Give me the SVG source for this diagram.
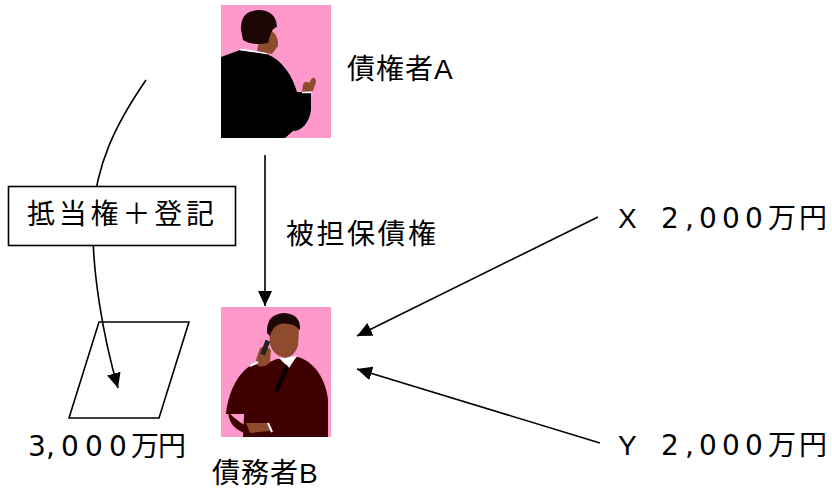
<svg xmlns="http://www.w3.org/2000/svg" width="832" height="490" viewBox="0 0 832 490">
  <style>
    .t { font-family: "Noto Sans CJK JP", "Liberation Sans", sans-serif; font-size: 28px; fill: #000; }
    .n { font-family: "DejaVu Sans", "Liberation Sans", sans-serif; font-size: 28px; }
    .line { fill: none; stroke: #000; stroke-width: 1.6; }
    .bg { fill: #FF99CC; }
    .skin { fill: #8E4B2E; }
    .hair { fill: #1C0606; }
  </style>
  <defs>
    <marker id="head" markerUnits="userSpaceOnUse" markerWidth="16" markerHeight="14" refX="15" refY="7" orient="auto">
      <path d="M0,0 L15,7 L0,14 Z" fill="#000"/>
    </marker>
  </defs>

  <rect width="832" height="490" fill="#fff"/>

  <!-- land parcel -->
  <g id="land">
    <polygon points="99,322 189,322 159,418 69,418" fill="#fff" stroke="#000" stroke-width="1.6"/>
    <text class="t" font-size="27"><tspan class="n" x="28" y="456">3</tspan><tspan class="n" x="46" y="456">,</tspan><tspan class="n" x="61" y="456">0</tspan><tspan class="n" x="85" y="456">0</tspan><tspan class="n" x="109" y="456">0</tspan><tspan x="131" y="456">万</tspan><tspan x="158" y="456">円</tspan></text>
  </g>

  <!-- connectors -->
  <g id="connectors">
    <path class="line" d="M265,155 L265,306" marker-end="url(#head)"/>
    <path class="line" d="M146,80 C115,125 96,165 93,215 C91,270 104,340 118,388" marker-end="url(#head)"/>
    <path class="line" d="M598,217 L357,336" marker-end="url(#head)"/>
    <path class="line" d="M600,443 L357,369" marker-end="url(#head)"/>
  </g>

  <!-- mortgage label box -->
  <g id="mortgage">
    <rect x="8.5" y="186.5" width="227" height="59" fill="#fff" stroke="#000" stroke-width="1.6"/>
    <text class="t" x="27" y="224" font-size="29" letter-spacing="3.8">抵当権＋登記</text>
  </g>

  <!-- creditor A -->
  <g id="creditorA">
    <rect class="bg" x="221" y="5" width="110" height="133"/>
    <path d="M221,57 L240,50 Q255,52 267,54 C282,60 292,75 297,92 L311,92 L311,110 C309,124 301,131 293,131 L285,138 L221,138 Z" fill="#000"/>
    <path d="M240,49.5 Q255,51.5 267,53.5" fill="none" stroke="#fff" stroke-width="1.5"/>
    <path class="skin" d="M262,28 Q279,30 278,46 L272,54 L257,51 Z"/>
    <path class="hair" d="M241,30 Q240,11 258,10 Q276,10 277,27 Q272,28 270,36 L268,43 Q252,46 243,40 Z"/>
    <path class="skin" d="M302,92 L303,84 Q306,80 309,83 L312,78 Q316,77 316,82 L313,91 Z"/>
    <path d="M302,92.5 L312,92.5" stroke="#fff" stroke-width="1.5"/>
    <text class="t" x="347" y="79" letter-spacing="1">債権者<tspan font-family="Liberation Sans, sans-serif">A</tspan></text>
  </g>

  <!-- secured claim label -->
  <g id="claim">
    <text class="t" x="286" y="244" font-size="30" letter-spacing="2.5">被担保債権</text>
  </g>

  <!-- debtor B -->
  <g id="debtorB">
    <rect class="bg" x="221" y="307" width="110" height="130"/>
    <path d="M243,437 L245,395 C247,380 265,362 277,359 L298,357 C315,362 326,380 328,400 L328,437 Z" fill="#3E0000"/>
    <path d="M226,414 C228,395 236,375 250,366 L262,363 L268,372 C258,380 250,395 247,414 Z" fill="#3E0000"/>
    <path d="M228,412 C236,420 244,425 250,428 L268,424 L270,432 L245,433 C236,430 229,424 228,412 Z" fill="#3E0000"/>
    <path class="skin" d="M246,423 L268,423 L270,431 L250,433 Z"/>
    <path d="M268,423 L272,432" stroke="#fff" stroke-width="2"/>
    <path d="M279,358 L289,368 L297,356 Z" fill="#fff"/>
    <path d="M286,364 L289,368 L278,392 L275,390 Z" fill="#000"/>
    <path class="skin" d="M269,328 Q284,318 299,328 L298,346 Q294,357 285,358 Q274,356 270,345 Z"/>
    <path class="hair" d="M267,333 Q266,314 284,313 Q301,314 300,330 Q292,322 280,324 Q273,326 270,336 Z"/>
    <path class="skin" d="M256,360 L260,348 Q266,344 271,350 L270,362 Q265,368 258,366 Z"/>
    <rect x="263" y="340" width="5" height="15" fill="#222" transform="rotate(20 265 347)"/>
    <path d="M250,366 L258,362" stroke="#fff" stroke-width="2"/>
    <text class="t" x="212" y="483" letter-spacing="1">債務者<tspan font-family="Liberation Sans, sans-serif">B</tspan></text>
  </g>

  <!-- competing creditors -->
  <g id="creditorX">
    <text class="t"><tspan font-family="Liberation Sans, sans-serif" x="618" y="228">X</tspan><tspan class="n" x="661" y="228">2</tspan><tspan class="n" x="685" y="228">,</tspan><tspan class="n" x="699" y="228">0</tspan><tspan class="n" x="722" y="228">0</tspan><tspan class="n" x="745" y="228">0</tspan><tspan x="768" y="228">万</tspan><tspan x="799" y="228">円</tspan></text>
  </g>
  <g id="creditorY">
    <text class="t"><tspan font-family="Liberation Sans, sans-serif" x="618" y="455">Y</tspan><tspan class="n" x="661" y="455">2</tspan><tspan class="n" x="685" y="455">,</tspan><tspan class="n" x="699" y="455">0</tspan><tspan class="n" x="722" y="455">0</tspan><tspan class="n" x="745" y="455">0</tspan><tspan x="768" y="455">万</tspan><tspan x="799" y="455">円</tspan></text>
  </g>
</svg>
